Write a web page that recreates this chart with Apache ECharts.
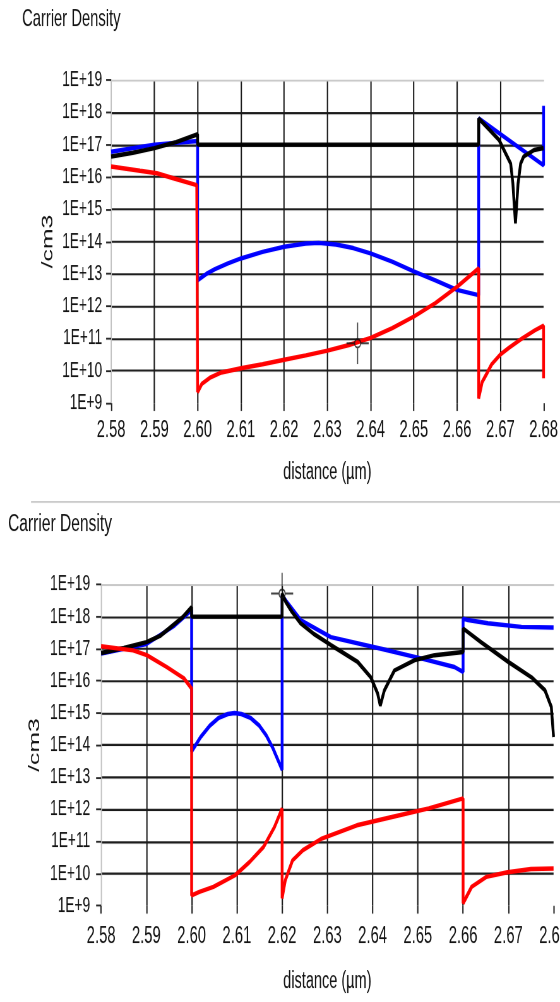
<!DOCTYPE html>
<html>
<head>
<meta charset="utf-8">
<script src="https://cdn.jsdelivr.net/npm/echarts@6/dist/echarts.min.js"></script>
<style>
html,body{margin:0;padding:0;background:#fff;overflow:hidden;}
#wrap{width:560px;height:1002px;overflow:hidden;position:relative;}
#chart{width:683px;height:771px;transform:scale(0.819912,1.299611);transform-origin:0 0;}
</style>
</head>
<body>
<div id="wrap"><div id="chart"></div></div>
<script>
// ---- data ----
const xTickLabels = ['2.58','2.59','2.60','2.61','2.62','2.63','2.64','2.65','2.66','2.67','2.68'];
const yTickLabels = ['1E+9','1E+10','1E+11','1E+12','1E+13','1E+14','1E+15','1E+16','1E+17','1E+18','1E+19'];

const topBlue = [
  [2.580,6.0e16],[2.590,1.0e17],[2.600,1.3e17],
  [2.600,6.3e12],[2.602,1.0e13],[2.604,1.4e13],[2.607,2.1e13],[2.610,3.0e13],[2.615,4.8e13],
  [2.620,6.9e13],[2.625,8.7e13],[2.628,9.1e13],[2.632,8.1e13],[2.636,6.3e13],[2.640,4.3e13],
  [2.645,2.4e13],[2.650,1.2e13],[2.655,6.3e12],[2.660,3.2e12],[2.665,2.2e12],
  [2.665,6.5e17],[2.680,2.3e16],[2.680,1.6e18]
];
const topBlack = [
  [2.580,4.3e16],[2.585,5.6e16],[2.590,7.8e16],[2.595,1.2e17],[2.600,2.1e17],
  [2.600,1.0e17],[2.665,1.0e17],
  [2.665,6.5e17],[2.6697,1.4e17],[2.6724,2.6e16],[2.6729,6.3e15],[2.6735,3.7e14],[2.6741,6.3e15],
  [2.6747,2.6e16],[2.6754,4.3e16],[2.6778,6.8e16],[2.680,7.9e16]
];
const topRed = [
  [2.580,2.1e16],[2.5867,1.55e16],[2.5906,1.3e16],[2.5944,9.1e15],[2.5998,5.6e15],
  [2.600,2.2e9],[2.601,4.0e9],[2.603,6.3e9],[2.6055,8.9e9],[2.610,1.2e10],[2.615,1.6e10],
  [2.620,2.2e10],[2.625,3.0e10],[2.630,4.2e10],[2.635,6.3e10],[2.640,1.05e11],[2.645,2.1e11],
  [2.650,4.8e11],[2.655,1.26e12],[2.660,4.0e12],[2.665,1.5e13],
  [2.665,1.4e9],[2.6658,4.5e9],[2.667,8.9e9],[2.668,1.6e10],[2.670,3.2e10],[2.672,5.2e10],
  [2.675,1.0e11],[2.678,1.8e11],[2.680,2.5e11],[2.680,5.9e9]
];
const topCursor = [[2.637,7.1e10]];

const botBlue = [
  [2.580,7.1e16],[2.590,1.4e17],[2.596,5.0e17],[2.600,1.6e18],
  [2.600,6.3e13],[2.602,1.8e14],[2.604,4.0e14],[2.606,7.1e14],[2.608,9.3e14],[2.6095,1.0e15],
  [2.611,9.3e14],[2.613,7.1e14],[2.615,4.0e14],[2.6165,2.0e14],[2.618,7.9e13],[2.620,1.7e13],
  [2.620,4.7e18],[2.6208,3.2e18],[2.6241,7.8e17],[2.6308,2.3e17],[2.6419,1.0e17],[2.6507,5.0e16],
  [2.6581,2.7e16],[2.660,1.9e16],
  [2.660,8.7e17],[2.6611,7.8e17],[2.6655,6.2e17],[2.6729,4.8e17],[2.680,4.6e17]
];
const botBlack = [
  [2.580,7.4e16],[2.585,1.05e17],[2.590,1.6e17],[2.593,2.5e17],[2.596,5.6e17],[2.598,9.5e17],[2.600,2.0e18],
  [2.600,1.0e18],[2.620,1.0e18],
  [2.620,5.2e18],[2.6208,2.9e18],[2.6222,1.4e18],[2.6241,6.2e17],[2.627,2.9e17],[2.6308,1.3e17],[2.6367,3.9e16],[2.6396,1.3e16],
  [2.6411,4.1e15],[2.6417,1.7e15],[2.6426,5.1e15],[2.6448,2.1e16],[2.6493,4.4e16],[2.6537,6.3e16],[2.660,7.9e16],
  [2.660,4.3e17],[2.664,1.6e17],[2.670,3.9e16],[2.6751,1.3e16],[2.6781,5.1e15],[2.6795,1.55e15],[2.680,1.8e14]
];
const botRed = [
  [2.580,1.2e17],[2.5871,8.9e16],[2.5901,6.3e16],[2.5945,2.7e16],[2.5983,1.2e16],[2.600,5.8e15],
  [2.600,2.1e9],[2.6017,2.7e9],[2.6048,3.9e9],[2.6096,8.9e9],[2.6128,2.3e10],[2.6159,6.8e10],[2.6183,2.8e11],[2.620,1.07e12],
  [2.620,1.7e9],[2.6207,6.2e9],[2.6223,2.6e10],[2.6246,5.4e10],[2.6286,1.2e11],[2.6365,3.2e11],[2.6445,5.9e11],[2.6524,1.07e12],[2.660,2.2e12],
  [2.660,1.2e9],[2.6619,3.9e9],[2.6651,7.9e9],[2.6698,1.1e10],[2.675,1.4e10],[2.680,1.45e10]
];
const botCursor = [[2.62,5.2e18]];

// ---- rendering ----
// page is drawn in an unscaled box and squeezed/stretched to 560x1002 (narrow, tall glyphs like the reference)
const K = 560/683;     // horizontal factor
const S = 1002/771;    // vertical factor
const FONT = '"Liberation Sans",Arial,sans-serif';
const TXT = '#111';
const GRIDC = '#1a1a1a';

const chart = echarts.init(document.getElementById('chart'), null, {renderer:'canvas', devicePixelRatio: 1.3});

function xFmt(v){ return xTickLabels[Math.round((v-2.58)/0.01)] || ''; }
function yFmt(v){ return yTickLabels[Math.round(Math.log10(v))-9] || ''; }

const grids = [
  {left:111/K, top:80/S, width:432/K, height:(403-80)/S, containLabel:false, outerBoundsMode:'none'},
  {left:101/K, top:584.3/S, width:452/K, height:(905.5-584.3)/S, containLabel:false, outerBoundsMode:'none'}
];

function mainX(i, labelMargin, nameGap){
  return {
    type:'value', gridIndex:i, min:2.58, max:2.68, interval:0.01, position:'bottom',
    axisLine:{show:false, onZero:false},
    axisTick:{show:true, length:6, lineStyle:{color:'#222', width:1.6}},
    axisLabel:{margin:labelMargin, fontFamily:FONT, fontSize:18, color:TXT, formatter:xFmt, showMinLabel:true, showMaxLabel:true, hideOverlap:false},
    splitLine:{show:true, showMinLine:false, showMaxLine:false, lineStyle:{color:GRIDC, width:1.6}},
    name:'distance (µm)', nameLocation:'middle', nameGap:nameGap,
    nameTextStyle:{fontFamily:FONT, fontSize:17.7, color:TXT}
  };
}
function borderX(i){
  return {
    type:'value', gridIndex:i, min:2.58, max:2.68, position:'top',
    axisLine:{show:true, onZero:false, lineStyle:{color:'#c8c8c8', width:1.5}},
    axisTick:{show:false}, axisLabel:{show:false}, splitLine:{show:false}
  };
}
function mainY(i, margin){
  return {
    type:'log', logBase:10, gridIndex:i, min:1e9, max:1e19, interval:1,
    axisLine:{show:true, onZero:false, lineStyle:{color:'#c0c0c0', width:1.4}},
    axisTick:{show:true, length:5/K, lineStyle:{color:'#222', width:1.4}},
    axisLabel:{margin:margin, fontFamily:FONT, fontSize:16.7, color:TXT, formatter:yFmt},
    splitLine:{show:true, showMinLine:false, showMaxLine:false, lineStyle:{color:GRIDC, width:1.6}}
  };
}
function lineS(data, color, xi, yi){
  return {type:'line', xAxisIndex:xi, yAxisIndex:yi, data:data, showSymbol:false, symbol:'none',
    lineStyle:{color:color, width:3.4}, silent:true};
}
const cursorPath = 'path://M0,16L8,16M14,16L22,16M11,0L11,12.8M11,19.2L11,32M8,16A3,3.2 0 1,1 14,16A3,3.2 0 1,1 8,16Z';
function cursorS(data, xi, yi){
  return {type:'scatter', xAxisIndex:xi, yAxisIndex:yi, data:data, symbol:cursorPath, symbolSize:[27,32],
    itemStyle:{color:'rgba(0,0,0,0)', borderColor:'#111', borderWidth:1.4}, silent:true, z:5};
}

chart.setOption({
  animation:false,
  backgroundColor:'#fff',
  grid:grids,
  xAxis:[mainX(0, 12, 44.5), borderX(0), mainX(1, 15, 49), borderX(1)],
  yAxis:[mainY(0, 9/K), mainY(1, 11/K)],
  graphic:[
    {type:'text', x:22/K, y:15.4, style:{text:'Carrier Density', font:'18px '+FONT, fill:TXT, verticalAlign:'middle'}},
    {type:'line', shape:{x1:31/K, y1:501.7/S, x2:683, y2:501.7/S}, style:{stroke:'#c8c8c8', lineWidth:1.5}},
    {type:'text', x:8/K, y:403, style:{text:'Carrier Density', font:'19px '+FONT, fill:TXT, verticalAlign:'middle'}},
    {type:'text', x:48/K, y:241.5/S, rotation:Math.PI/2, style:{text:'/cm3', font:'19px '+FONT, fill:TXT, align:'center', verticalAlign:'middle'}},
    {type:'text', x:35/K, y:744.8/S, rotation:Math.PI/2, style:{text:'/cm3', font:'19px '+FONT, fill:TXT, align:'center', verticalAlign:'middle'}}
  ],
  series:[
    lineS(topBlue, '#0000ff', 0, 0),
    lineS(topBlack, '#000000', 0, 0),
    lineS(topRed, '#ff0000', 0, 0),
    cursorS(topCursor, 0, 0),
    lineS(botBlue, '#0000ff', 2, 1),
    lineS(botBlack, '#000000', 2, 1),
    lineS(botRed, '#ff0000', 2, 1),
    cursorS(botCursor, 2, 1)
  ]
});
</script>
</body>
</html>
